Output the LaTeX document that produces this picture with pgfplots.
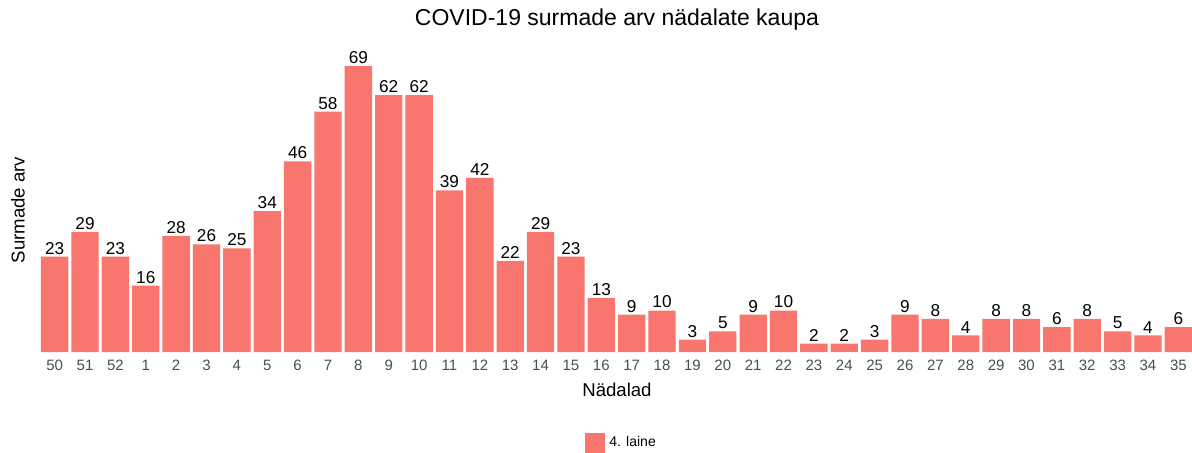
\documentclass[border=0pt]{standalone}
\usepackage{fontspec}
\setmainfont{Liberation Sans}
\usepackage{pgfplots}
\pgfplotsset{compat=1.18}
\definecolor{barcol}{HTML}{F8766D}
\definecolor{tickgray}{HTML}{4D4D4D}
\begin{document}
\begin{tikzpicture}
\useasboundingbox (0,0) rectangle (596pt,226pt);
\clip (0,0) rectangle (596pt,226pt);
\begin{axis}[
  at={(20.5pt,50pt)}, anchor=south west,
  scale only axis, width=575.5pt, height=149.2pt,
  xmin=-0.45, xmax=37.45, ymin=0, ymax=72,
  clip=false,
  axis line style={draw=none},
  ybar, bar width=0.9,
  xtick=data, ytick=\empty,
  xticklabels={50,51,52,1,2,3,4,5,6,7,8,9,10,11,12,13,14,15,16,17,18,19,20,21,22,23,24,25,26,27,28,29,30,31,32,33,34,35},
  major tick length=0pt,
  xticklabel style={font=\fontsize{7.5}{9}\selectfont, text=tickgray, anchor=center, yshift=-6.5pt},
  /pgf/number format/assume math mode=true,
  nodes near coords,
  nodes near coords style={font=\fontsize{8.6}{10}\selectfont, text=black, inner sep=1pt},
  legend style={at={(0.4726,-0.305)}, anchor=west, draw=none, inner sep=0pt, font=\fontsize{7}{8}\selectfont},
  legend cell align=left,
  legend image code/.code={\fill[barcol] (0pt,-5pt) rectangle (10pt,5pt);},
]
\addplot[fill=barcol, draw=none] coordinates {
(0,23) (1,29) (2,23) (3,16) (4,28) (5,26) (6,25) (7,34) (8,46) (9,58)
(10,69) (11,62) (12,62) (13,39) (14,42) (15,22) (16,29) (17,23) (18,13) (19,9)
(20,10) (21,3) (22,5) (23,9) (24,10) (25,2) (26,2) (27,3) (28,9) (29,8)
(30,4) (31,8) (32,8) (33,6) (34,8) (35,5) (36,4) (37,6)};
\addlegendentry{4. laine}
\node[anchor=center, font=\fontsize{11.5}{14}\selectfont] at (axis description cs:0.5004,1.1126) {COVID-19 surmade arv nädalate kaupa};
\node[anchor=center, font=\fontsize{9.3}{11}\selectfont] at (axis description cs:0.5004,-0.1273) {Nädalad};
\node[anchor=center, rotate=90, font=\fontsize{9.3}{11}\selectfont] at (axis description cs:-0.02,0.476) {Surmade arv};
\end{axis}
\end{tikzpicture}
\end{document}
